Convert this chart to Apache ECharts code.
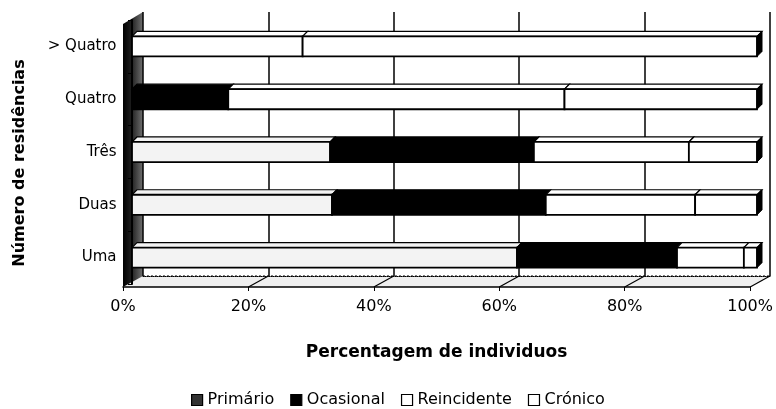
<!DOCTYPE html>
<html lang="pt">
<head>
    <meta charset="UTF-8">
    <title>Número de residências</title>
    <style>
        html, body { margin: 0; padding: 0; background: white; }
        #fig { width: 776px; height: 409px; }
    </style>
    <script src="https://cdn.jsdelivr.net/npm/echarts@6/dist/echarts.min.js"></script>
</head>
<body>
<div id="fig"></div>
<script>
    // dados (% de indivíduos)
    var categories = ['Uma', 'Duas', 'Três', 'Quatro', '> Quatro'];
    var primario = [61.6, 32.0, 31.7, 0, 0];
    var ocasional = [25.6, 34.2, 32.6, 15.4, 0];
    var reincidente = [10.7, 23.9, 24.8, 53.8, 27.3];
    var cronico = [2.1, 9.9, 10.9, 30.8, 72.7];
    var xTicks = [0, 20, 40, 60, 80, 100];

    var seriesNames = ['Primário', 'Ocasional', 'Reincidente', 'Crónico'];
    var seriesValues = [primario, ocasional, reincidente, cronico];
    var barColors = ['#f3f3f3', '#000000', '#ffffff', '#ffffff'];
    var legendColors = ['#333333', '#000000', '#ffffff', '#ffffff'];

    var fontFam = 'DejaVu Sans';
    var DEPTH = 5;

    // segmentos empilhados: [inicio, fim, categoria, ultimo]
    function buildSegments(k) {
        var out = [];
        for (var i = 0; i < categories.length; i++) {
            var v = seriesValues[k][i];
            if (!v) continue;
            var start = 0;
            for (var j = 0; j < k; j++) start += seriesValues[j][i];
            var last = 1;
            for (var j2 = k + 1; j2 < seriesValues.length; j2++) {
                if (seriesValues[j2][i] > 0) last = 0;
            }
            out.push([start, start + v, i, last]);
        }
        return out;
    }

    function renderSeg(params, api) {
        var p0 = api.coord([api.value(0), api.value(2)]);
        var p1 = api.coord([api.value(1), api.value(2)]);
        var h = api.size([0, 1])[1] * 0.38;
        var d = DEPTH;
        var x0 = p0[0], x1 = p1[0];
        var top = p0[1] - h / 2, bot = p0[1] + h / 2;
        var fill = api.visual('color');
        var children = [
            {
                type: 'polygon',
                shape: {points: [[x0, top], [x1, top], [x1 + d, top - d], [x0 + d, top - d]]},
                style: {fill: fill, stroke: '#000', lineWidth: 1.2}
            },
            {
                type: 'rect',
                shape: {x: x0, y: top, width: x1 - x0, height: h},
                style: {fill: fill, stroke: '#000', lineWidth: 1.8}
            }
        ];
        if (api.value(3)) {
            children.push({
                type: 'polygon',
                shape: {points: [[x1, top], [x1 + d, top - d], [x1 + d, bot - d], [x1, bot]]},
                style: {fill: '#000', stroke: '#000', lineWidth: 1}
            });
        }
        return {type: 'group', children: children};
    }

    var series = [];
    for (var k = 0; k < seriesNames.length; k++) {
        series.push({
            name: seriesNames[k],
            type: 'custom',
            xAxisIndex: 0,
            yAxisIndex: 0,
            renderItem: renderSeg,
            encode: {x: [0, 1], y: 2},
            itemStyle: {color: barColors[k]},
            data: buildSegments(k)
        });
    }

    var legendData = [];
    for (var m = 0; m < seriesNames.length; m++) {
        legendData.push({
            name: seriesNames[m],
            icon: 'rect',
            itemStyle: {color: legendColors[m], borderColor: '#000', borderWidth: 1.2}
        });
    }

    var fig = echarts.init(document.getElementById('fig'), null, {renderer: 'canvas'});

    var option = {
        animation: false,
        backgroundColor: '#fff',
        textStyle: {fontFamily: fontFam, color: '#000'},
        grid: [
            {left: 132, right: 19, top: 20, bottom: 125},   // barras
            {left: 123, right: 22, top: 24, bottom: 122},   // plano da frente (chão)
            {left: 143, right: 6, top: 12, bottom: 133}     // parede do fundo
        ],
        legend: {
            data: legendData,
            left: 186,
            top: 387,
            itemWidth: 11,
            itemHeight: 11,
            itemGap: 16,
            textStyle: {fontFamily: fontFam, fontSize: 16, color: '#000'}
        },
        xAxis: [
            {gridIndex: 0, type: 'value', min: 0, max: 100, show: false},
            {
                gridIndex: 1, type: 'value', min: 0, max: 100, interval: 20,
                axisLine: {show: true, lineStyle: {color: '#000', width: 1.5}},
                axisTick: {show: true, length: 4, lineStyle: {color: '#000'}},
                splitLine: {show: false},
                axisLabel: {
                    formatter: '{value}%', fontSize: 16, color: '#000',
                    fontFamily: fontFam, margin: 12
                },
                name: 'Percentagem de individuos',
                nameLocation: 'middle',
                nameGap: 57,
                nameTextStyle: {fontFamily: fontFam, fontSize: 17, fontWeight: 'bold', color: '#000'}
            },
            {
                gridIndex: 2, type: 'value', min: 0, max: 100, interval: 20, position: 'top',
                axisLine: {show: true, lineStyle: {color: '#000', width: 1, type: 'dotted'}},
                axisTick: {show: false},
                axisLabel: {show: false},
                splitLine: {show: true, lineStyle: {color: '#000', width: 1.5}}
            }
        ],
        yAxis: [
            {
                gridIndex: 0, type: 'category', data: categories, offset: 8.5,
                axisLine: {show: true, lineStyle: {color: '#000', width: 2}},
                axisTick: {show: true, length: 4, lineStyle: {color: '#000'}},
                axisLabel: {fontSize: 15, color: '#000', fontFamily: fontFam, margin: 7},
                name: 'Número de residências',
                nameLocation: 'middle',
                nameRotate: 90,
                nameGap: 96,
                nameTextStyle: {
                    fontFamily: fontFam, fontSize: 16, fontWeight: 'bold', color: '#000',
                    padding: [0, 22, 0, 0]
                }
            },
            {gridIndex: 1, type: 'value', min: 0, max: 1, show: false},
            {gridIndex: 2, type: 'value', min: 0, max: 1, show: false}
        ],
        series: series
    };

    fig.setOption(option);

    // paredes e chão em perspectiva, a partir das escalas dos eixos
    function front(v, y) { return fig.convertToPixel({gridIndex: 1}, [v, y]); }
    function back(v, y) { return fig.convertToPixel({gridIndex: 2}, [v, y]); }

    var decor = [];
    decor.push({
        type: 'polygon', z: -2,
        shape: {points: [front(0, 0), front(100, 0), back(100, 0), back(0, 0)]},
        style: {fill: '#efefef'}
    });
    decor.push({
        type: 'polygon', z: -2,
        shape: {points: [front(0, 0), front(0, 1), back(0, 1), back(0, 0)]},
        style: {
            fill: new echarts.graphic.LinearGradient(0, 0, 1, 0, [
                {offset: 0, color: '#000'},
                {offset: 0.4, color: '#1c1c1c'},
                {offset: 1, color: '#707070'}
            ])
        }
    });
    decor.push({
        type: 'line', z: -1,
        shape: {x1: back(0, 0)[0], y1: back(0, 0)[1], x2: back(100, 0)[0], y2: back(100, 0)[1]},
        style: {stroke: '#000', lineWidth: 1, lineDash: [2, 2]}
    });
    xTicks.forEach(function (v) {
        if (v === 0) return;
        var a = back(v, 0), b = front(v, 0);
        decor.push({
            type: 'line', z: -1,
            shape: {x1: a[0], y1: a[1], x2: b[0], y2: b[1]},
            style: {stroke: '#000', lineWidth: 1.2}
        });
    });
    fig.setOption({graphic: decor});
</script>
</body>
</html>
